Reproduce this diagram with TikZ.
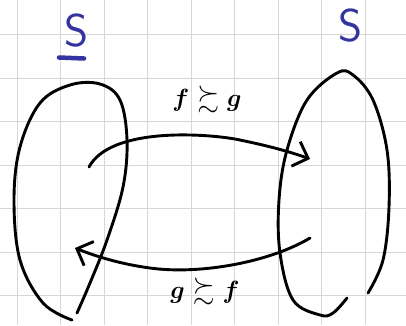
\documentclass[tikz,border=0pt]{standalone}
\usepackage{amsmath,amssymb}
\usetikzlibrary{arrows.meta}
\definecolor{inkblue}{RGB}{52,52,160}
\definecolor{gridgray}{RGB}{215,215,215}
\tikzset{
  ink/.style={line width=2.9pt, line cap=round, line join=round, black},
  arr/.style={ink, -{Straight Barb[length=13pt,width=26pt,line width=2.9pt]}},
  setname/.style={text=inkblue, font=\sffamily\fontsize{46}{46}\selectfont, inner sep=0pt},
  rel/.style={font=\boldmath\fontsize{28}{28}\selectfont, inner sep=0pt},
}
\begin{document}
\begin{tikzpicture}[x=1pt,y=-1pt]
\useasboundingbox (0,0) rectangle (406,325);
\fill[white] (0,0) rectangle (406,325);
% grid
\foreach \x in {17,60.5,104,147.5,191,234.5,278,321.5,365}
  \draw[gridgray, line width=1pt] (\x,0) -- (\x,325);
\foreach \y in {34.5,78,121.5,165,208.5,252,295.5}
  \draw[gridgray, line width=1pt] (0,\y) -- (406,\y);
% left set
\draw[ink] plot[smooth, tension=0.6] coordinates {(72,320) (43,303) (20,260) (14,200) (20,147) (40,103) (70,85) (100,84) (120,100) (127,140) (123,187) (107,240) (90,283) (77,313)};
% right set
\draw[ink] plot[smooth, tension=0.6] coordinates {(347,298) (333,313) (320,315) (293,300) (280,253) (279,200) (287,150) (307,100) (337,73) (353,75) (373,100) (387,150) (389,207) (383,260) (368,293)};
% set names
\node[setname] (sl) at (77,31) {S};
\draw[inkblue, line width=4.5pt, line cap=round] (59,57.5) -- (84,58.5);
\coordinate (ul) at (71,58);
\node[setname] (sr) at (350,26) {S};
% arrow endpoints
\coordinate (a1) at (89,167);
\coordinate (b1) at (310,159);
\coordinate (a2) at (310,238);
\coordinate (b2) at (75,248);
\draw[arr] (a1) .. controls (110,128) and (200,133) .. (235,139) .. controls (260,144) and (285,150) .. (b1);
\draw[arr] (a2) .. controls (270,262) and (200,275) .. (150,268) .. controls (120,264) and (95,256) .. (b2);
% labels
\node[rel] (top) at (207,99) {$f\succsim g$};
\node[rel] (bot) at (205,291) {$g\succsim f$};
\end{tikzpicture}
\end{document}
